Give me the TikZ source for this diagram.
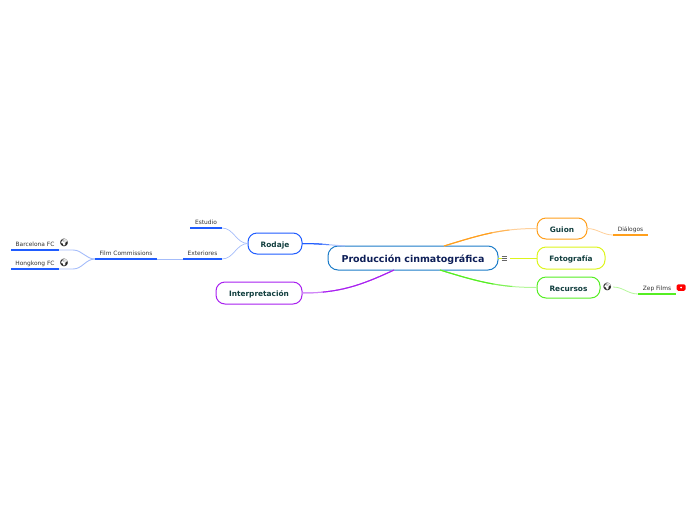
\documentclass[tikz,border=0pt]{standalone}
\usepackage{fontspec}
\setmainfont{DejaVu Sans}
\newfontfamily\emojifont{Noto Emoji}
\usepackage{xcolor}
\usetikzlibrary{
  positioning,
  calc,
}
\definecolor{rootblue}{HTML}{1C7CC8}
\definecolor{rootink}{HTML}{0E1F58}
\definecolor{topicink}{HTML}{123F3F}
\definecolor{rodajeblue}{HTML}{1F5CFF}
\definecolor{paleblue}{HTML}{A4BCFA}
\definecolor{gorange}{HTML}{FF9F1C}
\definecolor{paleorange}{HTML}{FFD09A}
\definecolor{fyellow}{HTML}{DDF51C}
\definecolor{rgreen}{HTML}{55EE22}
\definecolor{palegreen}{HTML}{B4F79A}
\definecolor{ipurple}{HTML}{A81FF0}

% branch with the strong colour near its start
\newcommand{\fadebranch}[5]{%
  \pgfmathsetmacro{\midlen}{1.35*#3}
  \draw[#1, line width=1pt] #4 #5;
  \draw[#2!55!#1, line width=1pt, dash pattern=on \midlen pt off 900pt] #4 #5;
  \draw[#2, line width=1pt, dash pattern=on #3pt off 900pt] #4 #5;
}

\begin{document}
\begin{tikzpicture}[
  x=1pt, y=-1pt,
  every node/.style={font=\fontsize{5.9}{7}\selectfont, text=black!80, outer sep=0pt},
  topic/.style={
    rectangle, draw, rounded corners=9pt, line width=1pt, fill=white,
    minimum height=21pt, inner sep=0pt, text=topicink, text height=7pt, text depth=0pt,
    font=\fontsize{7.4}{8}\selectfont\bfseries,
  },
  leaf/.style={rectangle, inner sep=0pt, minimum height=12pt, text height=5pt, text depth=0pt},
  icon/.style={inner sep=0pt, font=\emojifont\fontsize{7.5}{8}\selectfont, text=black!85},
]
  \useasboundingbox (0,0) rectangle (696,520);

  \node[topic, draw=rootblue, text=rootink, minimum width=170pt, minimum height=24pt, text height=8.5pt,
    rounded corners=10pt, font=\fontsize{9.5}{10}\selectfont\bfseries] (root) at (413,258) {Producción cinmatográfica};

  % Left side
  \node[topic, draw=rodajeblue, minimum width=54pt, left=26pt of root, yshift=14.5pt] (rodaje) {Rodaje};
  \node[topic, draw=ipurple, minimum width=86pt, minimum height=22pt, left=26pt of root, yshift=-35pt] (interp) {Interpretación};
  \node[leaf, minimum width=32pt, left=26pt of rodaje, yshift=21.5pt] (estudio) {Estudio};
  \node[leaf, minimum width=39pt, left=26pt of rodaje, yshift=-9.5pt] (exteriores) {Exteriores};
  \node[leaf, minimum width=62pt, left=26pt of exteriores] (film) {Film Commissions};
  \node[leaf, minimum width=48pt, left=36pt of film, yshift=9pt] (barcelona) {Barcelona FC};
  \node[leaf, minimum width=48pt, left=36pt of film, yshift=-10pt] (hongkong) {Hongkong FC};

  % Right side
  \node[topic, draw=gorange, minimum width=50pt, right=39pt of root, yshift=29.5pt] (guion) {Guion};
  \node[topic, draw=fyellow, minimum width=68pt, minimum height=22pt, right=39pt of root] (foto) {Fotografía};
  \node[topic, draw=rgreen, minimum width=63pt, right=39pt of root, yshift=-29.5pt] (recursos) {Recursos};
  \node[leaf, minimum width=35pt, right=26pt of guion, yshift=-0.5pt] (dialogos) {Diálogos};
  \node[leaf, minimum width=38pt, right=38pt of recursos, yshift=-0.5pt] (zep) {Zep Films};

  % Icons
  \node[icon, right=0.3pt of barcelona, yshift=1pt] (globeb) {🌍};
  \node[icon, right=0.3pt of hongkong, yshift=0.5pt] (globeh) {🌍};
  \node[icon, right=2.5pt of recursos, yshift=0.5pt] (glober) {🌍};
  \node[rectangle, minimum width=5.5pt, minimum height=6pt, inner sep=0pt, right=3.5pt of root] (notes) {};
  \foreach \notey in {-2.2,0,2.2}
    \draw[black!60, line width=0.6pt] ([yshift=\notey pt]notes.west) -- ([yshift=\notey pt]notes.east);
  \node[rectangle, fill=red, rounded corners=1.5pt, minimum width=9pt, minimum height=6.5pt, inner sep=0pt, right=0.5pt of zep, yshift=0.5pt] (video) {};
  \node[circle, fill=white, minimum size=2pt, inner sep=0pt] at (video) (videodot) {};

  % Main branches
  \fadebranch{paleorange}{gorange}{50}{([xshift=31pt]root.north)}{to[out=17,in=180] (guion.west)}
  \fadebranch{palegreen}{rgreen}{55}{([xshift=27pt]root.south)}{to[out=-17,in=180] (recursos.west)}
  \fadebranch{ipurple!55}{ipurple}{75}{([xshift=-19pt]root.south)}{to[out=-155,in=0] (interp.east)}
  \fadebranch{paleblue}{rodajeblue}{20}{(rodaje.east)}{to[out=0,in=176] ([xshift=-68pt]root.north)}
  \draw[fyellow, line width=0.8pt] (notes.east) ++(3,0) -- (foto.west);
  \draw[fyellow, line width=0.8pt] (root.east) -- (notes.west);

  % Leaf branches
  \draw[paleblue, line width=0.7pt] (estudio.south east) to[out=0,in=180] (rodaje.west);
  \draw[paleblue, line width=0.7pt] (exteriores.south east) to[out=0,in=180] (rodaje.west);
  \draw[paleblue, line width=0.7pt] (film.south east) -- (exteriores.south west);
  \draw[paleblue, line width=0.9pt] (barcelona.south east) -- ++(14,0) to[out=0,in=180] (film.south west);
  \draw[paleblue, line width=0.9pt] (hongkong.south east) -- ++(14,0) to[out=0,in=180] (film.south west);
  \draw[paleorange, line width=0.8pt] (guion.east) to[out=0,in=180] (dialogos.south west);
  \draw[palegreen, line width=0.8pt] (glober.east) ++(1,0) to[out=0,in=180] (zep.south west);

  % Underlines
  \foreach \leafname/\leafcolor in {estudio/rodajeblue, exteriores/rodajeblue, film/rodajeblue,
    barcelona/rodajeblue, hongkong/rodajeblue, dialogos/gorange, zep/rgreen}
    \draw[\leafcolor, line width=1.3pt] (\leafname.south west) -- (\leafname.south east);

\end{tikzpicture}
\end{document}
